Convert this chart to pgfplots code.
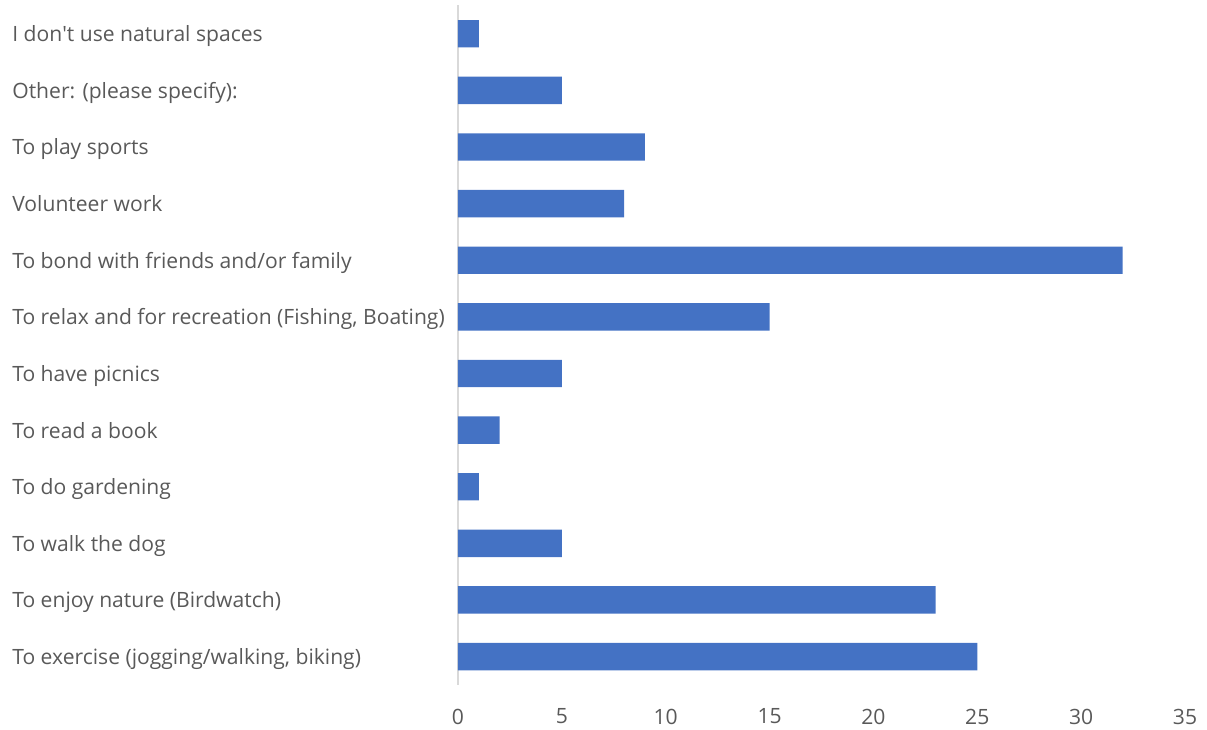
\documentclass[border=0pt]{standalone}
\usepackage{pgfplots}
\pgfplotsset{compat=1.18}
\usepackage{fontspec}
\setmainfont{Open Sans}
\definecolor{barblue}{HTML}{4472C4}
\definecolor{txtgray}{HTML}{595959}
\definecolor{axgray}{HTML}{D9D9D9}
\begin{document}
\fontsize{11.6pt}{13pt}\selectfont
\begin{tikzpicture}
\begin{axis}[
  scale only axis,
  width=399.85pt, height=373.7pt,
  xbar, bar width=15.1pt,
  xmin=0, xmax=35,
  ymin=-0.5, ymax=11.5,
  xtick={0,5,...,35},
  ytick={0,...,11},
  yticklabels={{To exercise (jogging/walking, biking)},To enjoy nature (Birdwatch),To walk the dog,To do gardening,To read a book,To have picnics,{To relax and for recreation (Fishing, Boating)},To bond with friends and/or family,Volunteer work,To play sports,Other: (please specify):,I don\textquotesingle t use natural spaces},
  axis x line*=bottom,
  x axis line style={draw=none},
  axis y line*=left,
  y axis line style={draw=axgray, line width=0.8pt, -},
  major tick length=0pt,
  ytick style={draw=none},
  xtick style={draw=none},
  yticklabel style={anchor=west, inner sep=0pt, text height=1.6ex, text depth=0.1ex, yshift=0.3pt, xshift=-245.3pt, text=txtgray, font=\fontsize{11.6pt}{13pt}\selectfont},
  xticklabel style={inner sep=0pt, yshift=-13pt, text=txtgray, font=\fontsize{11.6pt}{13pt}\selectfont},
  /pgf/number format/assume math mode=true,
  clip=false,
]
\addplot[fill=barblue, draw=none] coordinates {
(25,0) (23,1) (5,2) (1,3) (2,4) (5,5) (15,6) (32,7) (8,8) (9,9) (5,10) (1,11)};
\end{axis}
\pgfresetboundingbox
\path ([shift={(-251.9pt,-24.75pt)}]current axis.south west) rectangle ([shift={(12.1pt,3.0pt)}]current axis.north east);
\end{tikzpicture}
\end{document}
